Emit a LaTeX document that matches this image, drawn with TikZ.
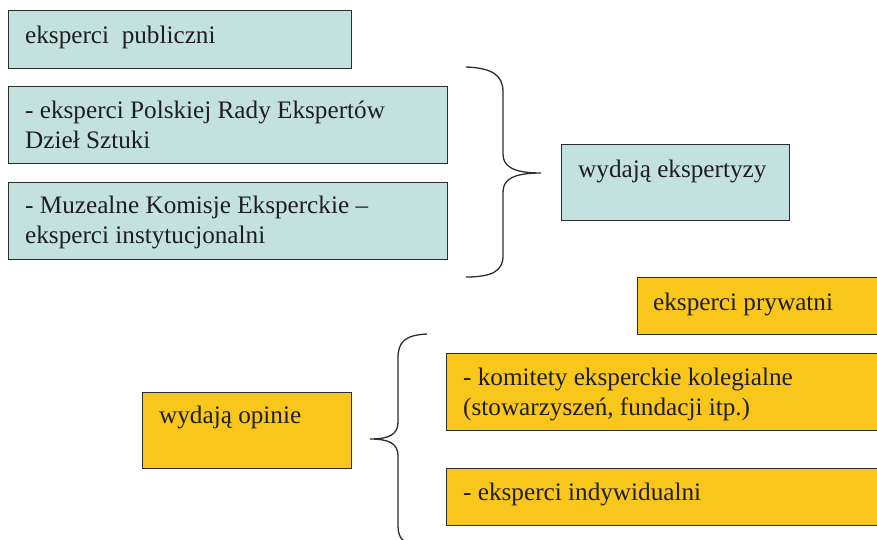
\documentclass[tikz,border=0pt]{standalone}
\usepackage{fontspec}
\setmainfont{Liberation Serif}
\newfontfamily\boxfont{Liberation Serif}
\usetikzlibrary{calc}
\definecolor{tealfill}{RGB}{195,226,223}
\definecolor{goldfill}{RGB}{249,198,27}
\definecolor{edge}{RGB}{45,45,45}
\definecolor{ink}{RGB}{30,30,30}
\tikzset{
  box/.style={draw=edge, line width=1.3pt, rectangle, anchor=north west, inner sep=0pt},
  tealbox/.style={box, fill=tealfill},
  goldbox/.style={box, fill=goldfill},
  txt/.style={anchor=base west, inner sep=0pt, text=ink, font=\boxfont\fontsize{25.2}{30}\selectfont},
  brace/.style={draw=edge, line width=1.3pt}
}
\begin{document}
\begin{tikzpicture}[x=1pt, y=-1pt]
  \useasboundingbox (0,0) rectangle (877,539);
  \clip (0,0) rectangle (877,539);

  % public experts
  \node[tealbox, minimum width=343pt, minimum height=58pt] (pub) at (8,10) {};
  \node[txt] (pubt) at ($(pub.north west)+(17,33)$) {eksperci\ \ publiczni};

  \node[tealbox, minimum width=439pt, minimum height=77pt] (rada) at (8,86) {};
  \node[txt] (rada1) at ($(rada.north west)+(17,32)$) {- eksperci Polskiej Rady Ekspertów};
  \node[txt] (rada2) at ($(rada.north west)+(17,62)$) {Dzieł Sztuki};

  \node[tealbox, minimum width=439pt, minimum height=77pt] (muz) at (8,182) {};
  \node[txt] (muz1) at ($(muz.north west)+(17,31)$) {- Muzealne Komisje Eksperckie –};
  \node[txt] (muz2) at ($(muz.north west)+(17,61)$) {eksperci instytucjonalni};

  \node[tealbox, minimum width=228pt, minimum height=76pt] (eksp) at (561,144) {};
  \node[txt] (ekspt) at ($(eksp.north west)+(17,33)$) {wydają ekspertyzy};

  % brace joining the public experts
  \draw[brace] (466,67) .. controls (492,68) and (503,75) .. (503,92)
    -- (503,154) .. controls (503,167) and (514,173) .. (541,173)
    .. controls (514,173) and (503,179) .. (503,192)
    -- (503,256) .. controls (503,271) and (492,277) .. (466,277);

  % private experts
  \node[goldbox, minimum width=250pt, minimum height=57pt] (pryw) at (637,277) {};
  \node[txt] (prywt) at ($(pryw.north west)+(16,33)$) {eksperci prywatni};

  \node[goldbox, minimum width=440pt, minimum height=77pt] (kom) at (446,353) {};
  \node[txt] (kom1) at ($(kom.north west)+(17,32)$) {- komitety eksperckie kolegialne};
  \node[txt] (kom2) at ($(kom.north west)+(17,62)$) {(stowarzyszeń, fundacji itp.)};

  \node[goldbox, minimum width=440pt, minimum height=57pt] (ind) at (446,468) {};
  \node[txt] (indt) at ($(ind.north west)+(17,32)$) {- eksperci indywidualni};

  \node[goldbox, minimum width=209pt, minimum height=76pt] (opin) at (142,392) {};
  \node[txt] (opint) at ($(opin.north west)+(17,31)$) {wydają opinie};

  % brace joining the private experts
  \draw[brace] (427,334) .. controls (405,335) and (398,342) .. (398,358)
    -- (398,422) .. controls (398,434) and (390,439) .. (370,439)
    .. controls (390,439) and (398,444) .. (398,456)
    -- (398,526) .. controls (398,540) and (405,546) .. (427,547);
\end{tikzpicture}
\end{document}
